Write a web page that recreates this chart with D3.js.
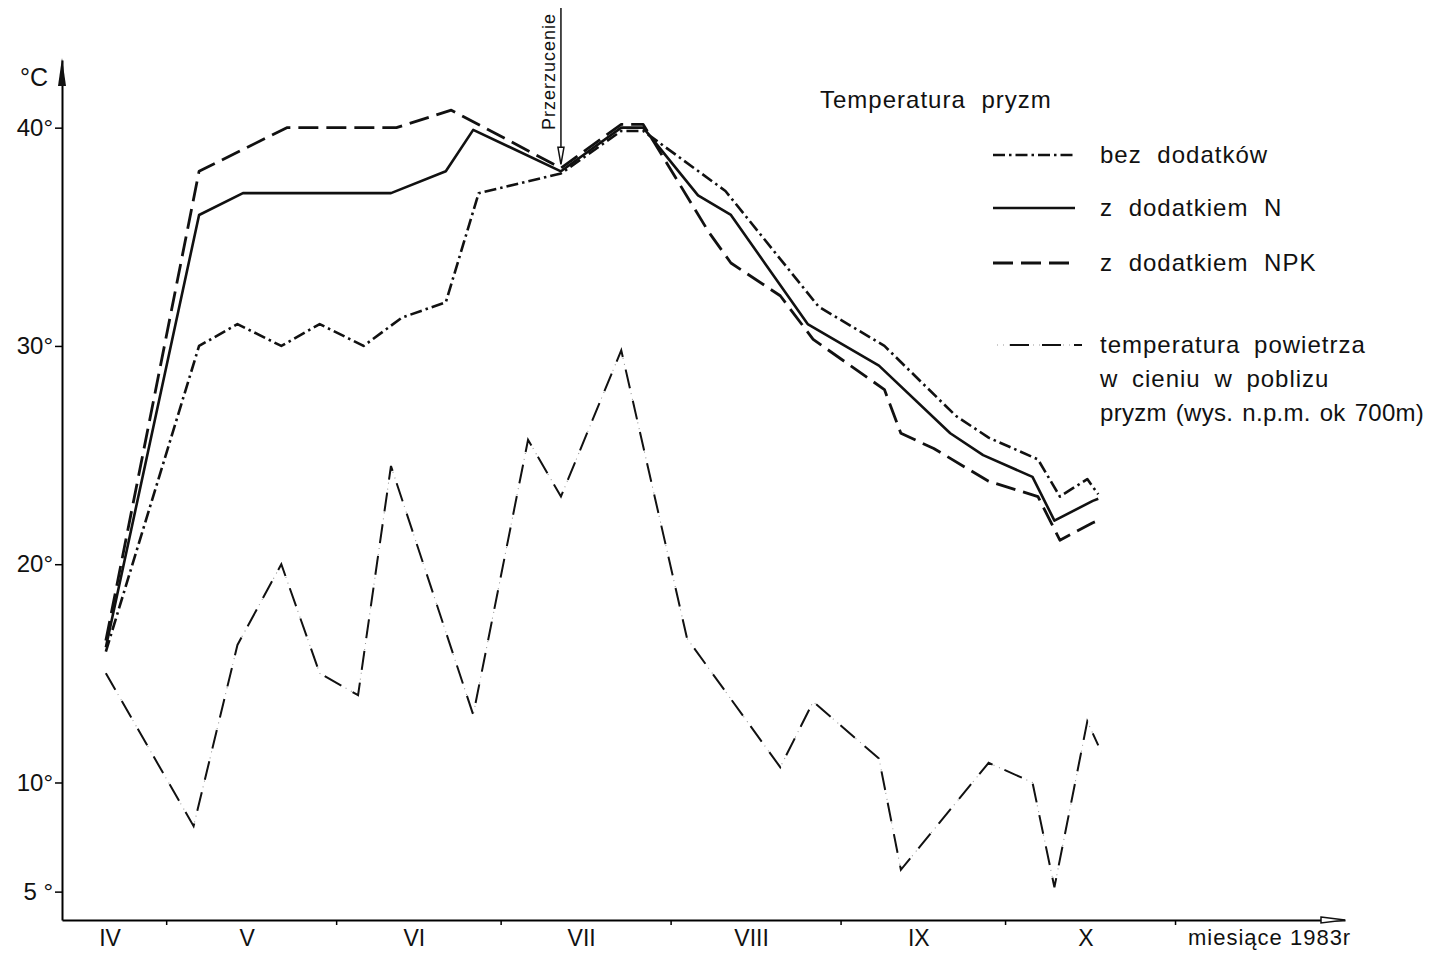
<!DOCTYPE html>
<html>
<head>
<meta charset="utf-8">
<script src="https://cdn.jsdelivr.net/npm/d3@7"></script>
<style>
  html, body { margin: 0; padding: 0; background: #fff; }
  svg { display: block; font-family: "Liberation Sans", Arial, sans-serif; }
  text { fill: #111; }
</style>
</head>
<body>
<svg id="chart" width="1447" height="953"></svg>
<script>
// all dates are in 1983, written as month-day
const bezDates = ["04-20","05-07","05-14","05-22","05-29","06-06","06-13","06-21","06-27","07-12","07-23","07-27","08-11","08-28","09-09","09-22","09-28","10-07","10-11","10-16","10-18"];
const bezValues = [16.0, 30.0, 31.0, 30.0, 31.0, 30.0, 31.3, 32.0, 37.0, 37.9, 39.85, 39.85, 37.1, 31.8, 30.0, 26.8, 25.8, 24.8, 23.1, 23.9, 23.2];

const nDates = ["04-20","05-07","05-15","06-11","06-21","06-26","07-12","07-23","07-27","08-06","08-12","08-26","09-08","09-21","09-27","10-06","10-10","10-17","10-18"];
const nValues = [16.2, 36.0, 37.0, 37.0, 38.0, 39.9, 38.0, 40.0, 40.0, 36.9, 36.0, 31.0, 29.1, 26.0, 25.0, 24.0, 22.0, 22.9, 23.0];

const npkDates = ["04-20","05-07","05-23","06-12","06-22","07-12","07-23","07-27","08-08","08-12","08-21","08-27","09-09","09-12","09-18","09-28","10-07","10-11","10-17","10-18"];
const npkValues = [16.5, 38.0, 40.0, 40.0, 40.8, 38.15, 40.15, 40.15, 35.2, 33.8, 32.3, 30.3, 28.0, 26.0, 25.3, 23.8, 23.1, 21.1, 21.9, 22.0];

const airDates = ["04-20","05-06","05-14","05-22","05-29","06-05","06-11","06-26","07-06","07-12","07-23","08-04","08-21","08-27","09-08","09-12","09-28","10-06","10-10","10-16","10-18"];
const airValues = [15.0, 8.0, 16.3, 20.0, 15.0, 14.0, 24.5, 13.1, 25.7, 23.1, 29.8, 16.6, 10.7, 13.7, 11.1, 6.0, 10.9, 10.0, 5.2, 12.8, 11.7];

const przerzucenieDate = "07-12";
const przerzucenieValue = 38.0;

const yTicks = [5, 10, 20, 30, 40];
const yTickLabels = ["5 °", "10°", "20°", "30°", "40°"];
const monthLabels = ["IV", "V", "VI", "VII", "VIII", "IX", "X"];
const legendLabels = ["bez dodatków", "z dodatkiem N", "z dodatkiem NPK"];
const airLegendLines = ["temperatura powietrza", "w cieniu w poblizu", "pryzm (wys. n.p.m. ok 700m)"];

const parse = d3.timeParse("%Y-%m-%d");
const toPoints = (dates, values) => dates.map((d, i) => ({ date: parse("1983-" + d), value: values[i] }));

const svg = d3.select("#chart");

// scales
const x = d3.scaleTime()
    .domain([new Date(1983, 3, 12), new Date(1983, 11, 2)])
    .range([62, 1345]);
const y = d3.scaleLinear()
    .domain([3.7, 43.1])
    .range([920, 60]);

const line = d3.line()
    .x(d => x(d.date))
    .y(d => y(d.value));

// x axis, month boundaries as ticks
const monthStarts = d3.range(4, 11).map(m => new Date(1983, m, 1));
const xAxis = svg.append("g")
    .attr("transform", `translate(0,${y.range()[0]})`)
    .call(d3.axisBottom(x).tickValues(monthStarts).tickSize(5).tickSizeOuter(0).tickFormat(""));
xAxis.select(".domain").attr("stroke-width", 2);
xAxis.selectAll(".tick line").attr("stroke-width", 1.5);

// open arrow at end of x axis
const xEnd = x.range()[1];
svg.append("path")
    .attr("d", `M${xEnd - 24},${y.range()[0] - 3} L${xEnd},${y.range()[0]} L${xEnd - 24},${y.range()[0] + 3} Z`)
    .attr("fill", "#fff").attr("stroke", "#111").attr("stroke-width", 1.5);

// month labels centred in each month
monthLabels.forEach((lab, i) => {
    const start = d3.max([new Date(1983, 3 + i, 1), x.domain()[0]]);
    const end = new Date(1983, 4 + i, 1);
    svg.append("text")
        .attr("x", (x(start) + x(end)) / 2 - 4)
        .attr("y", 946)
        .attr("text-anchor", "middle")
        .attr("font-size", 23)
        .text(lab);
});

svg.append("text")
    .attr("x", 1188).attr("y", 945)
    .attr("font-size", 22)
    .attr("letter-spacing", 1)
    .text("miesiące 1983r");

// y axis
const yAxis = svg.append("g")
    .attr("transform", `translate(${x.range()[0]},0)`)
    .call(d3.axisLeft(y).tickValues(yTicks).tickSize(7).tickSizeOuter(0).tickFormat((d, i) => yTickLabels[i]));
yAxis.select(".domain").attr("stroke-width", 2);
yAxis.selectAll(".tick line").attr("stroke-width", 1.5);
yAxis.selectAll(".tick text")
    .attr("font-size", 24)
    .attr("font-family", "Liberation Sans, Arial, sans-serif")
    .attr("x", -9);

// filled arrow on y axis
const yTop = y.range()[1];
svg.append("path")
    .attr("d", `M${x.range()[0] - 4},${yTop + 26} L${x.range()[0]},${yTop - 2} L${x.range()[0] + 4},${yTop + 26} Z`)
    .attr("fill", "#111");

svg.append("text")
    .attr("x", 20).attr("y", 86)
    .attr("font-size", 25)
    .text("°C");

// series
const series = [
    { pts: toPoints(npkDates, npkValues), dash: "20,8", width: 2.8 },
    { pts: toPoints(nDates, nValues), dash: null, width: 2.6 },
    { pts: toPoints(bezDates, bezValues), dash: "12,4,2.5,4", width: 2.6 }
];

const air = toPoints(airDates, airValues);
svg.append("path")
    .datum(air)
    .attr("d", line)
    .attr("fill", "none")
    .attr("stroke", "#999")
    .attr("stroke-width", 1.1)
    .attr("stroke-dasharray", "1,5");
svg.append("path")
    .datum(air)
    .attr("d", line)
    .attr("fill", "none")
    .attr("stroke", "#111")
    .attr("stroke-width", 2)
    .attr("stroke-dasharray", "19,13");

series.forEach(s => {
    svg.append("path")
        .datum(s.pts)
        .attr("d", line)
        .attr("fill", "none")
        .attr("stroke", "#111")
        .attr("stroke-width", s.width)
        .attr("stroke-linejoin", "round")
        .attr("stroke-dasharray", s.dash);
});

// "Przerzucenie" marker
const px = x(parse("1983-" + przerzucenieDate));
const py = y(przerzucenieValue);
svg.append("line")
    .attr("x1", px).attr("x2", px)
    .attr("y1", 8).attr("y2", py - 24)
    .attr("stroke", "#111").attr("stroke-width", 1.5);
svg.append("path")
    .attr("d", `M${px - 3},${py - 24} L${px + 3},${py - 24} L${px},${py - 7} Z`)
    .attr("fill", "#fff").attr("stroke", "#111").attr("stroke-width", 1.5);
svg.append("text")
    .attr("transform", `translate(${px - 6},130) rotate(-90)`)
    .attr("font-size", 18)
    .attr("letter-spacing", 1)
    .text("Przerzucenie");

// legend
svg.append("text")
    .attr("x", 820).attr("y", 108)
    .attr("font-size", 24)
    .attr("letter-spacing", 1)
    .attr("word-spacing", 8)
    .text("Temperatura pryzm");

const legendY = [155, 208, 263];
series.slice().reverse().forEach((s, i) => {
    svg.append("line")
        .attr("x1", 993).attr("x2", 1075)
        .attr("y1", legendY[i]).attr("y2", legendY[i])
        .attr("stroke", "#111")
        .attr("stroke-width", s.width)
        .attr("stroke-dasharray", s.dash);
    svg.append("text")
        .attr("x", 1100).attr("y", legendY[i] + 8)
        .attr("font-size", 24)
        .attr("letter-spacing", 1)
        .attr("word-spacing", 8)
        .text(legendLabels[i]);
});

svg.append("line")
    .attr("x1", 997).attr("x2", 1082).attr("y1", 345).attr("y2", 345)
    .attr("stroke", "#999").attr("stroke-width", 1.1).attr("stroke-dasharray", "1,5");
svg.append("line")
    .attr("x1", 1010).attr("x2", 1082).attr("y1", 345).attr("y2", 345)
    .attr("stroke", "#111").attr("stroke-width", 2).attr("stroke-dasharray", "19,13");

const airLegendSpacing = [[1, 6], [1, 6], [0.3, 2]];
airLegendLines.forEach((t, i) => {
    svg.append("text")
        .attr("x", 1100).attr("y", 353 + i * 34)
        .attr("font-size", 24)
        .attr("letter-spacing", airLegendSpacing[i][0])
        .attr("word-spacing", airLegendSpacing[i][1])
        .text(t);
});
</script>
</body>
</html>
